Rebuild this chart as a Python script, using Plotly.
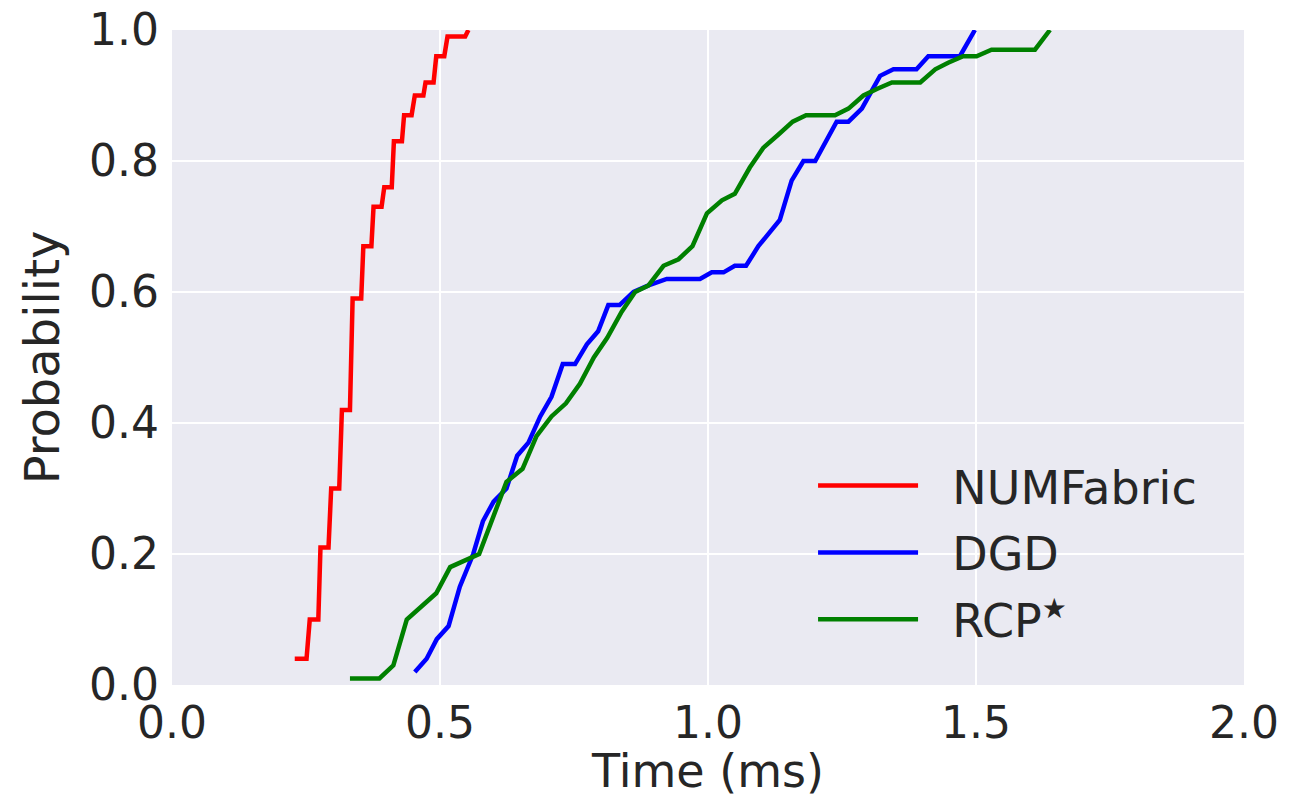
import plotly.graph_objects as go

# NUMFabric CDF (time in ms, cumulative probability)
numfabric_t = [0.229, 0.251, 0.257, 0.273, 0.277, 0.292, 0.297, 0.312, 0.317, 0.332,
               0.337, 0.353, 0.357, 0.372, 0.376, 0.391, 0.396, 0.410, 0.414, 0.429,
               0.433, 0.447, 0.453, 0.469, 0.473, 0.488, 0.493, 0.508, 0.514, 0.547, 0.553]
numfabric_p = [0.04, 0.04, 0.10, 0.10, 0.21, 0.21, 0.30, 0.30, 0.42, 0.42,
               0.59, 0.59, 0.67, 0.67, 0.73, 0.73, 0.76, 0.76, 0.83, 0.83,
               0.87, 0.87, 0.90, 0.90, 0.92, 0.92, 0.96, 0.96, 0.99, 0.99, 1.00]

# DGD CDF
dgd_t = [0.453, 0.475, 0.494, 0.516, 0.537, 0.562, 0.580, 0.600, 0.624, 0.644,
         0.665, 0.687, 0.708, 0.729, 0.752, 0.774, 0.795, 0.814, 0.835, 0.861,
         0.889, 0.923, 0.945, 0.985, 1.007, 1.029, 1.050, 1.071, 1.094, 1.134,
         1.156, 1.178, 1.200, 1.240, 1.262, 1.287, 1.321, 1.346, 1.389, 1.411,
         1.470, 1.498]
dgd_p = [0.02, 0.04, 0.07, 0.09, 0.15, 0.20, 0.25, 0.28, 0.30, 0.35,
         0.37, 0.41, 0.44, 0.49, 0.49, 0.52, 0.54, 0.58, 0.58, 0.60,
         0.61, 0.62, 0.62, 0.62, 0.63, 0.63, 0.64, 0.64, 0.67, 0.71,
         0.77, 0.80, 0.80, 0.86, 0.86, 0.88, 0.93, 0.94, 0.94, 0.96,
         0.96, 1.00]

# RCP* CDF
rcp_t = [0.332, 0.387, 0.413, 0.438, 0.493, 0.519, 0.573, 0.600, 0.624, 0.654,
         0.680, 0.708, 0.735, 0.761, 0.787, 0.812, 0.839, 0.864, 0.889, 0.917,
         0.945, 0.971, 0.998, 1.026, 1.050, 1.078, 1.103, 1.131, 1.158, 1.183,
         1.237, 1.262, 1.290, 1.315, 1.343, 1.396, 1.424, 1.448, 1.476, 1.501,
         1.529, 1.610, 1.638]
rcp_p = [0.01, 0.01, 0.03, 0.10, 0.14, 0.18, 0.20, 0.26, 0.31, 0.33,
         0.38, 0.41, 0.43, 0.46, 0.50, 0.53, 0.57, 0.60, 0.61, 0.64,
         0.65, 0.67, 0.72, 0.74, 0.75, 0.79, 0.82, 0.84, 0.86, 0.87,
         0.87, 0.88, 0.90, 0.91, 0.92, 0.92, 0.94, 0.95, 0.96, 0.96,
         0.97, 0.97, 1.00]

series_names = ["NUMFabric", "DGD", 'RCP<sup><span style="font-size:28px">★</span></sup>']
series_colors = ["#FF0000", "#0000FF", "#008000"]

x_ticks = [0.0, 0.5, 1.0, 1.5, 2.0]
x_tick_labels = ["0.0", "0.5", "1.0", "1.5", "2.0"]
y_ticks = [0.0, 0.2, 0.4, 0.6, 0.8, 1.0]
y_tick_labels = ["0.0", "0.2", "0.4", "0.6", "0.8", "1.0"]

font_family = "DejaVu Sans"
text_color = "#262626"
pad = "\u00a0\u00a0"

fig = go.Figure()
for i, (xs, ys) in enumerate([(numfabric_t, numfabric_p), (dgd_t, dgd_p), (rcp_t, rcp_p)]):
    fig.add_trace(go.Scatter(x=xs, y=ys, mode="lines", name=pad + series_names[i],
                             legendgroup=f"g{i}",
                             line=dict(color=series_colors[i], width=4.5)))

fig.update_layout(
    width=1291, height=798,
    margin=dict(l=172, r=47, t=30, b=113),
    paper_bgcolor="white",
    plot_bgcolor="#EAEAF2",
    font=dict(family=font_family, color=text_color, size=44),
    showlegend=True,
    legend=dict(x=0.598, y=0.36, xanchor="left", yanchor="top",
                bgcolor="rgba(0,0,0,0)", font=dict(size=46, color=text_color),
                itemwidth=100, traceorder="grouped", tracegroupgap=4),
    xaxis=dict(range=[0, 2.0], tickvals=x_ticks, ticktext=x_tick_labels,
               showgrid=True, gridcolor="white", gridwidth=2, zeroline=False,
               showline=False, ticks="", ticklabelstandoff=8, automargin=False,
               tickfont=dict(size=44),
               title=dict(text="Time (ms)", font=dict(size=46))),
    yaxis=dict(range=[0, 1.0], tickvals=y_ticks, ticktext=y_tick_labels,
               showgrid=True, gridcolor="white", gridwidth=2, zeroline=False,
               showline=False, ticks="", ticklabelstandoff=12, automargin=False,
               tickfont=dict(size=44),
               title=dict(text="Probability", font=dict(size=48), standoff=14)),
)

fig.write_html("out.html", config={"displayModeBar": False},
               post_script="document.body.style.margin='0';document.body.style.overflow='hidden';")
